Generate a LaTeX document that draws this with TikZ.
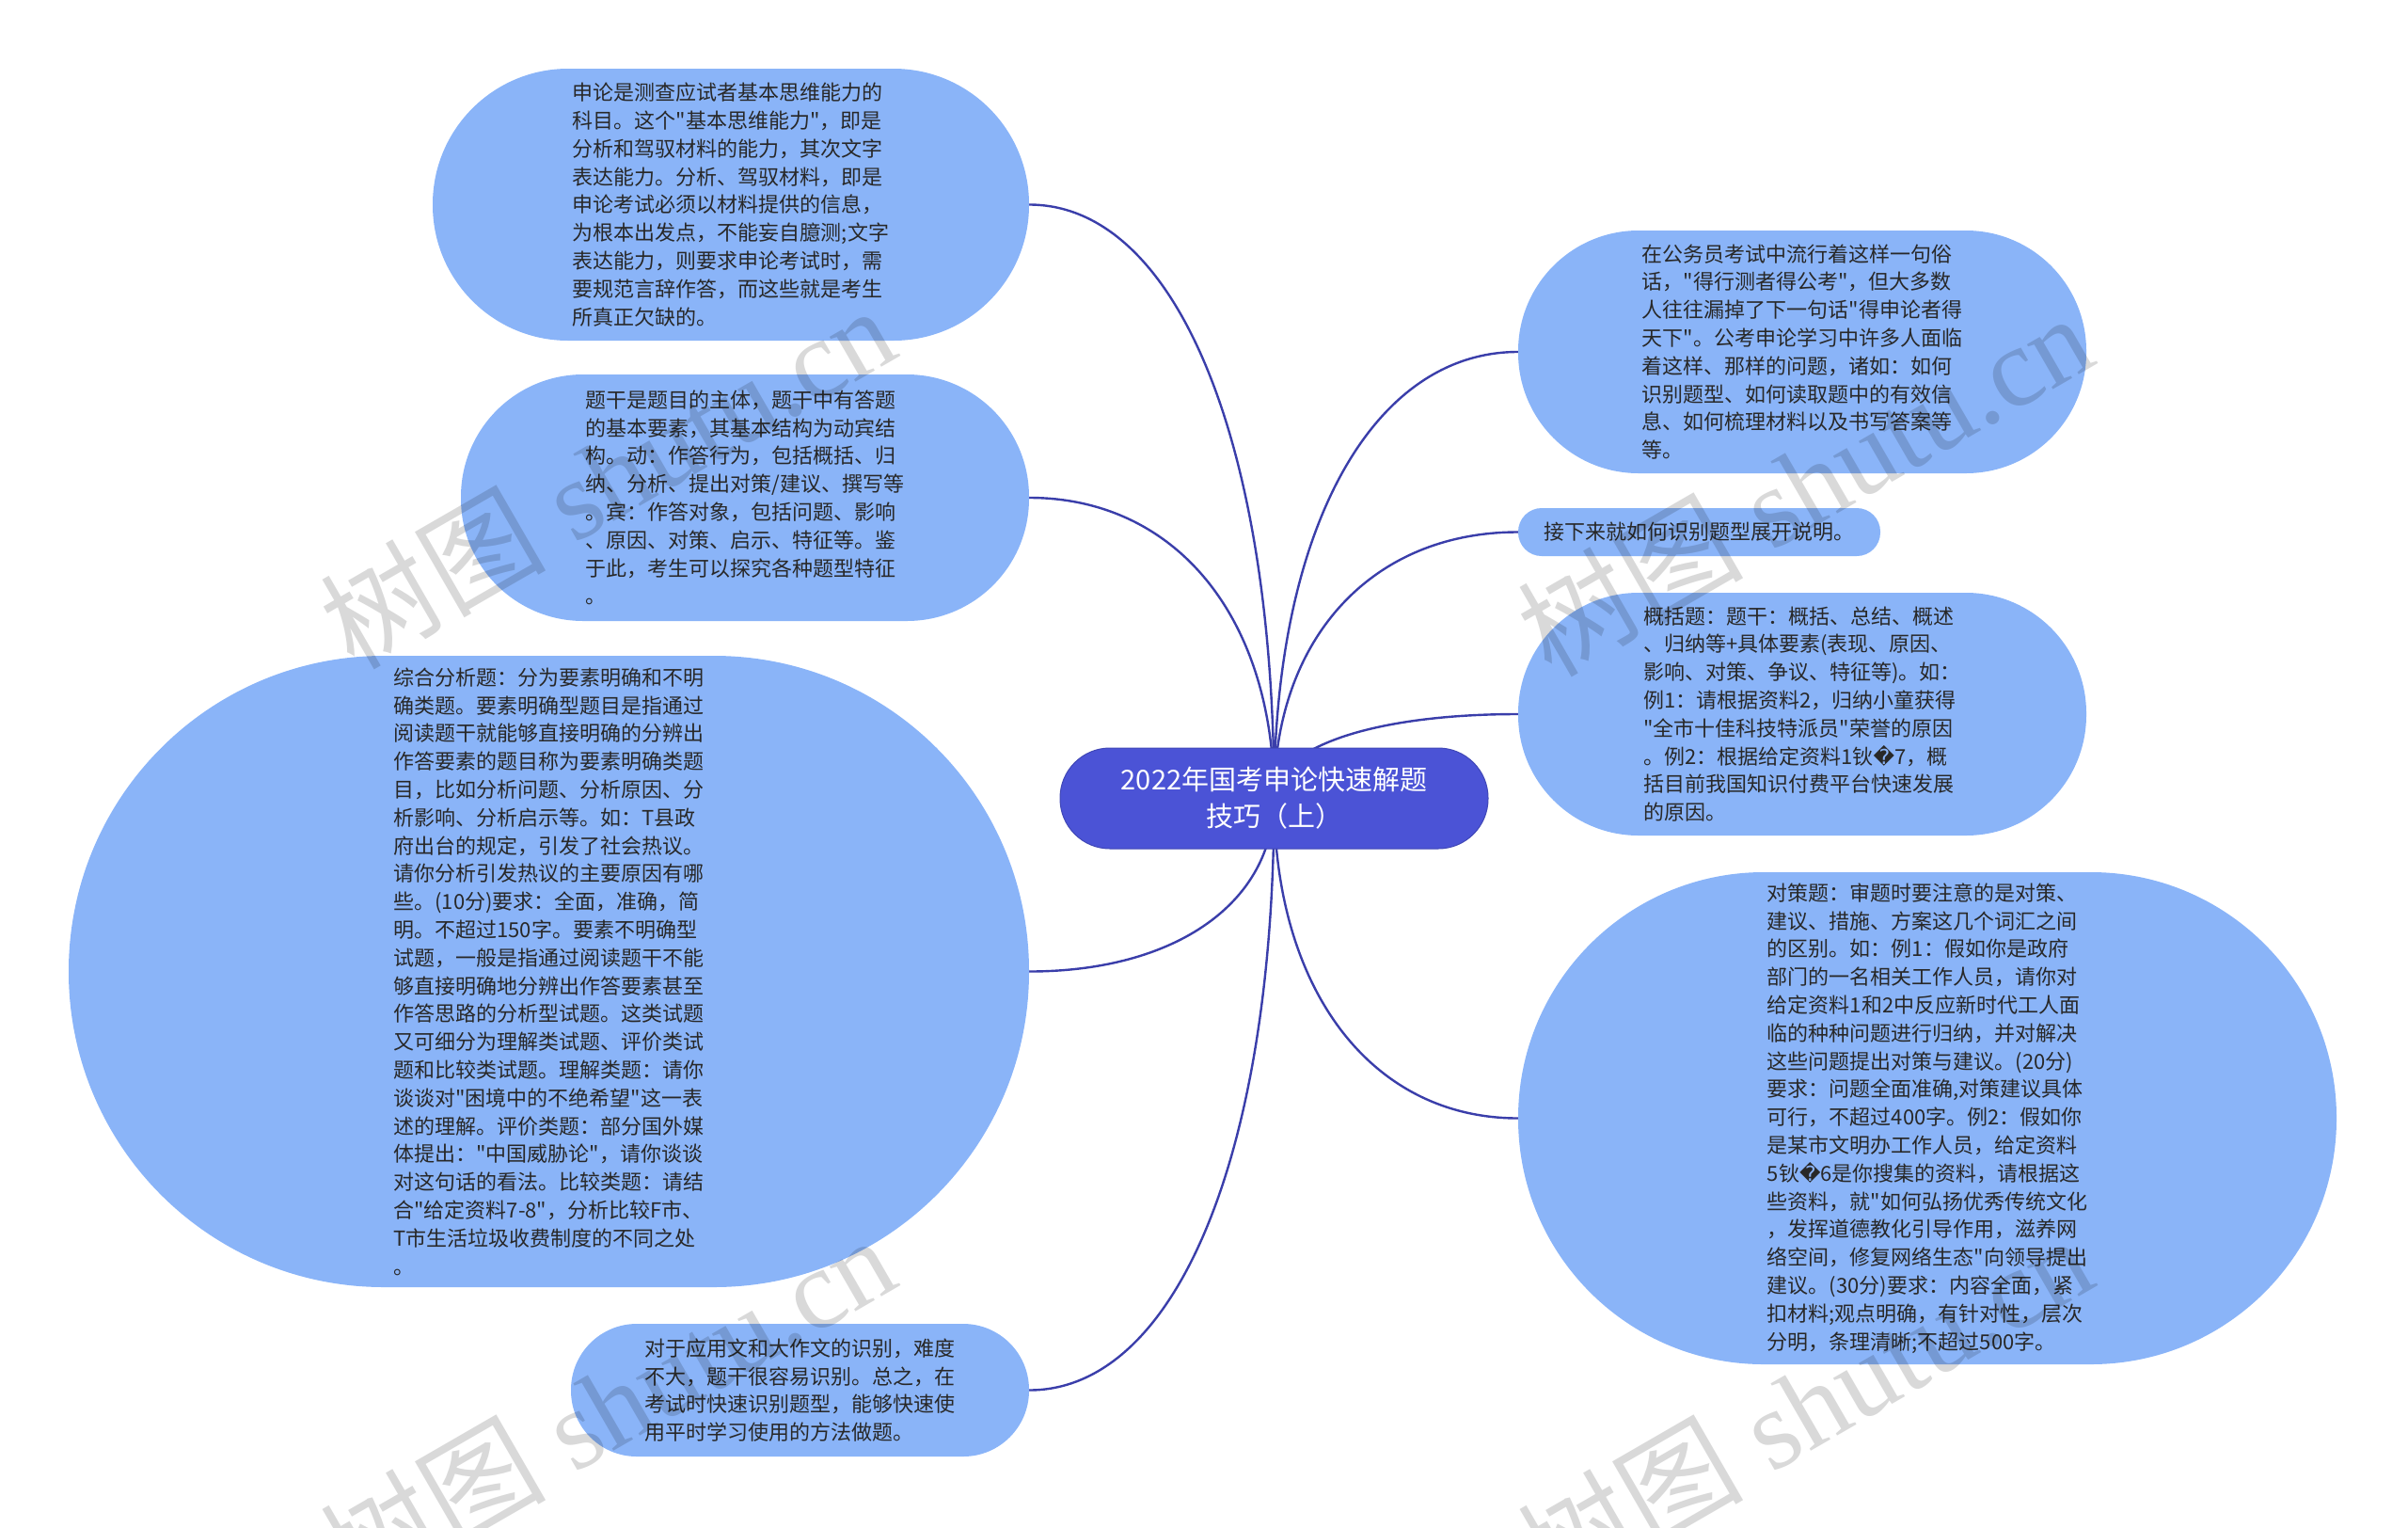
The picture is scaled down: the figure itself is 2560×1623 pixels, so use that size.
\documentclass[tikz,border=0pt]{standalone}
\usepackage{fontspec}
\setmainfont{Noto Sans CJK SC}[Ligatures=TeXOff]
\newfontfamily\dejavu{DejaVu Sans}
\newfontfamily\wmfont{Liberation Serif}
\newfontfamily\wmcjk{Noto Sans CJK SC}
\usetikzlibrary{backgrounds,calc}
\definecolor{kidblue}{RGB}{138,180,248}
\definecolor{rootblue}{RGB}{75,83,214}
\definecolor{linkblue}{RGB}{58,62,170}
\definecolor{txtgray}{RGB}{40,40,40}
\newcommand\badch{{\dejavu\char"FFFD}}
\newcommand\linkto[2]{\draw[link] let \p1=(#1), \p2=(#2) in (\p1) .. controls (\x1,{\y1+0.6*(\y2-\y1)}) and ({\x1+0.4*(\x2-\x1)},\y2) .. (\p2);}
\tikzset{
  kid/.style={fill=kidblue, text=txtgray, align=left, inner sep=0pt, font=\fontsize{22}{29.8}\selectfont},
  root/.style={fill=rootblue, draw=rootblue!85!black, line width=1pt, text=white, align=center, inner sep=0pt, font=\fontsize{29}{39}\selectfont},
  link/.style={draw=linkblue, line width=2.4pt},
  wm/.style={text=black, opacity=0.15, rotate=30, inner sep=0pt, font=\wmfont\fontsize{120}{120}\selectfont}
}
\begin{document}
\begin{tikzpicture}[x=1pt,y=-1pt]
\useasboundingbox (0,0) rectangle (2560,1623);

\node[root, minimum width=455pt, minimum height=107pt, rounded corners=53pt] (C) at (1354.5,848.5) {2022年国考申论快速解题\\技巧（上）};

\node[kid, minimum width=634pt, minimum height=289pt, rounded corners=144pt] (N1) at (777,217.5) {申论是测查应试者基本思维能力的\\科目。这个"基本思维能力"，即是\\分析和驾驭材料的能力，其次文字\\表达能力。分析、驾驭材料，即是\\申论考试必须以材料提供的信息，\\为根本出发点，不能妄自臆测;文字\\表达能力，则要求申论考试时，需\\要规范言辞作答，而这些就是考生\\所真正欠缺的。};

\node[kid, minimum width=604pt, minimum height=262pt, rounded corners=130pt] (N2) at (792,529) {题干是题目的主体，题干中有答题\\的基本要素，其基本结构为动宾结\\构。动：作答行为，包括概括、归\\纳、分析、提出对策/建议、撰写等\\。宾：作答对象，包括问题、影响\\、原因、对策、启示、特征等。鉴\\于此，考生可以探究各种题型特征\\。};

\node[kid, minimum width=1021pt, minimum height=671pt, rounded corners=335pt] (N3) at (583.5,1032.5) {综合分析题：分为要素明确和不明\\确类题。要素明确型题目是指通过\\阅读题干就能够直接明确的分辨出\\作答要素的题目称为要素明确类题\\目，比如分析问题、分析原因、分\\析影响、分析启示等。如：T县政\\府出台的规定，引发了社会热议。\\请你分析引发热议的主要原因有哪\\些。(10分)要求：全面，准确，简\\明。不超过150字。要素不明确型\\试题，一般是指通过阅读题干不能\\够直接明确地分辨出作答要素甚至\\作答思路的分析型试题。这类试题\\又可细分为理解类试题、评价类试\\题和比较类试题。理解类题：请你\\谈谈对"困境中的不绝希望"这一表\\述的理解。评价类题：部分国外媒\\体提出："中国威胁论"，请你谈谈\\对这句话的看法。比较类题：请结\\合"给定资料7-8"，分析比较F市、\\T市生活垃圾收费制度的不同之处\\。};

\node[kid, minimum width=487pt, minimum height=141pt, rounded corners=70pt] (N4) at (850.5,1477.5) {对于应用文和大作文的识别，难度\\不大，题干很容易识别。总之，在\\考试时快速识别题型，能够快速使\\用平时学习使用的方法做题。};

\node[kid, minimum width=604pt, minimum height=258pt, rounded corners=128pt] (R1) at (1916,374) {在公务员考试中流行着这样一句俗\\话，"得行测者得公考"，但大多数\\人往往漏掉了下一句话"得申论者得\\天下"。公考申论学习中许多人面临\\着这样、那样的问题，诸如：如何\\识别题型、如何读取题中的有效信\\息、如何梳理材料以及书写答案等\\等。};

\node[kid, minimum width=385pt, minimum height=51pt, rounded corners=25pt] (R2) at (1806.5,565.5) {接下来就如何识别题型展开说明。};

\node[kid, minimum width=604pt, minimum height=258pt, rounded corners=128pt] (R3) at (1916,759) {概括题：题干：概括、总结、概述\\、归纳等+具体要素(表现、原因、\\影响、对策、争议、特征等)。如：\\例1：请根据资料2，归纳小童获得\\"全市十佳科技特派员"荣誉的原因\\。例2：根据给定资料1钬\badch7，概\\括目前我国知识付费平台快速发展\\的原因。};

\node[kid, minimum width=870pt, minimum height=523pt, rounded corners=261pt] (R4) at (2049,1188.5) {对策题：审题时要注意的是对策、\\建议、措施、方案这几个词汇之间\\的区别。如：例1：假如你是政府\\部门的一名相关工作人员，请你对\\给定资料1和2中反应新时代工人面\\临的种种问题进行归纳，并对解决\\这些问题提出对策与建议。(20分)\\要求：问题全面准确,对策建议具体\\可行，不超过400字。例2：假如你\\是某市文明办工作人员，给定资料\\5钬\badch6是你搜集的资料，请根据这\\些资料，就"如何弘扬优秀传统文化\\，发挥道德教化引导作用，滋养网\\络空间，修复网络生态"向领导提出\\建议。(30分)要求：内容全面，紧\\扣材料;观点明确，有针对性，层次\\分明，条理清晰;不超过500字。};

\begin{scope}[on background layer]
\linkto{C.center}{N1.east}
\linkto{C.center}{N2.east}
\linkto{C.center}{N3.east}
\linkto{C.center}{N4.east}
\linkto{C.center}{R1.west}
\linkto{C.center}{R2.west}
\linkto{C.center}{R3.west}
\linkto{C.center}{R4.west}
\end{scope}

\node[wm] (wm1) at (645,506) {{\wmcjk 树图} shutu.cn};
\node[wm] (wm2) at (1918,514) {{\wmcjk 树图} shutu.cn};
\node[wm] (wm3) at (645,1494) {{\wmcjk 树图} shutu.cn};
\node[wm] (wm4) at (1918,1494) {{\wmcjk 树图} shutu.cn};
\end{tikzpicture}
\end{document}
